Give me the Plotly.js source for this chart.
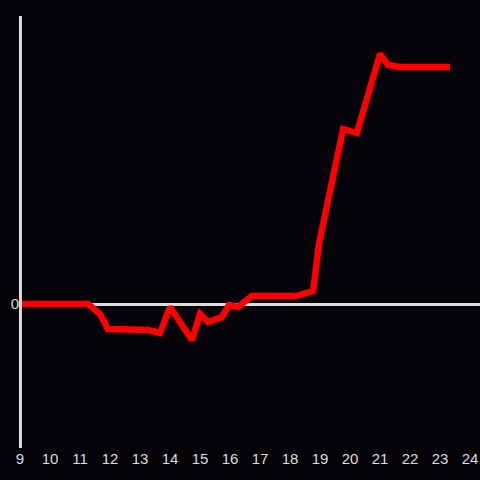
<!DOCTYPE html>
<html>
<head>
<meta charset="utf-8">
<script src="https://cdn.plot.ly/plotly-3.0.1.min.js"></script>
<style>html,body{margin:0;padding:0;background:#050308;}#chart{width:480px;height:480px;}</style>
</head>
<body>
<div id="chart"></div>
<script>
const hours = [9, 11.27, 11.67, 11.93, 13.27, 13.67, 14.0, 14.73, 15.0, 15.27, 15.73, 15.97, 16.27, 16.73, 18.2, 18.77, 18.97, 19.77, 20.23, 21.0, 21.27, 21.67, 23.33];
const values = [0, 0, -1.0, -2.5, -2.6, -2.9, -0.3, -3.6, -1.0, -1.8, -1.3, -0.1, -0.3, 0.8, 0.8, 1.3, 6.1, 17.5, 17.1, 25.0, 23.9, 23.7, 23.7];
const xTicks = [9,10,11,12,13,14,15,16,17,18,19,20,21,22,23,24];

Plotly.newPlot('chart', [{
  x: hours, y: values, type: 'scatter', mode: 'lines',
  line: {color: '#ff0000', width: 6.5}, hoverinfo: 'none'
}], {
  width: 480, height: 480,
  paper_bgcolor: '#050308', plot_bgcolor: '#050308',
  margin: {l: 20, r: 0, t: 16, b: 32},
  showlegend: false,
  font: {family: 'Liberation Sans, Arial, sans-serif', color: '#dddddd', size: 15},
  xaxis: {range: [9, 24.333], tickvals: xTicks, ticktext: xTicks.map(String),
          showgrid: false, zeroline: false, showline: false, ticks: '',
          tickfont: {size: 15, color: '#dddddd'}},
  yaxis: {range: [-14.4, 28.8], tickvals: [0], ticktext: ['0'], showgrid: false,
          zeroline: true, zerolinecolor: '#dddddd', zerolinewidth: 3,
          showline: false, ticks: '',
          tickfont: {size: 15, color: '#dddddd'}},
  shapes: [{type: 'line', xref: 'paper', yref: 'paper', x0: 0.001, x1: 0.001, y0: 0, y1: 1,
            line: {color: '#dddddd', width: 3}, layer: 'above'}]
}, {staticPlot: true});
</script>
</body>
</html>
